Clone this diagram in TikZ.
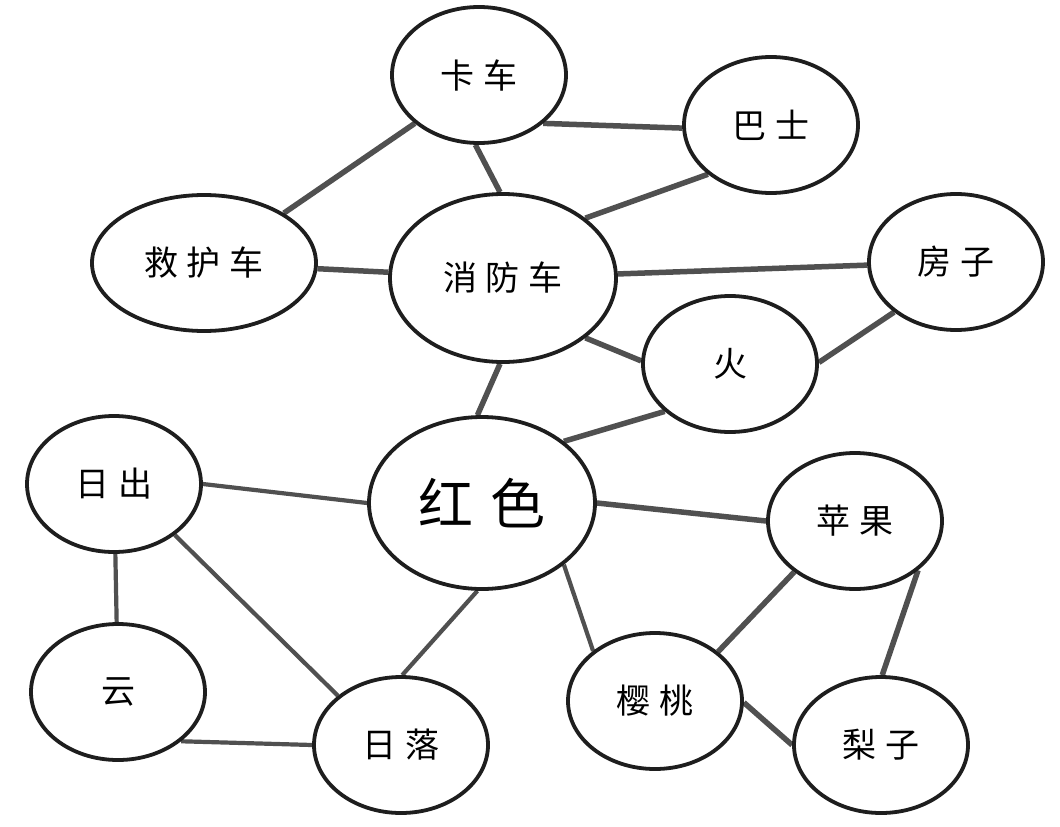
\documentclass[tikz,border=0pt]{standalone}
\usepackage{fontspec}
\newfontfamily\cjk{Noto Sans CJK SC}
\usetikzlibrary{shapes.geometric,backgrounds}
\definecolor{edgegray}{HTML}{505050}
\definecolor{bordergray}{HTML}{1E1E1E}
\newcommand{\cgap}{\hspace{9pt}}
\newcommand{\bgap}{\hspace{18pt}}
\tikzset{
  bubble/.style={ellipse, draw=bordergray, line width=3.8pt, fill=white, inner sep=0pt,
    minimum width=174pt, minimum height=136pt, font=\cjk\fontsize{34}{40}\selectfont},
  widebubble/.style={bubble, minimum width=224pt},
  bigbubble/.style={bubble, minimum width=226pt, minimum height=168pt},
  hugebubble/.style={bubble, minimum width=226pt, minimum height=172pt, font=\cjk\fontsize{55}{60}\selectfont},
  link/.style={draw=edgegray, line width=5.5pt},
  thinlink/.style={draw=edgegray, line width=4.2pt},
}
\begin{document}
\begin{tikzpicture}[x=1pt, y=-1pt]
\useasboundingbox (0,0) rectangle (1060,827);

\node[bubble]     (kache)   at (479,75)  {卡\cgap 车};
\node[bubble]     (bashi)   at (771,125) {巴\cgap 士};
\node[widebubble] (jiuhu)   at (204,263) {救\cgap 护\cgap 车};
\node[bigbubble]  (xiaofang) at (503,278) {消\cgap 防\cgap 车};
\node[bubble]     (fangzi)  at (956,262) {房\cgap 子};
\node[bubble]     (huo)     at (730,364) {火};
\node[hugebubble] (hongse)  at (482,503) {红\bgap 色};
\node[bubble]     (richu)   at (114,484) {日\cgap 出};
\node[bubble]     (pingguo) at (855,521) {苹\cgap 果};
\node[bubble]     (yun)     at (118,692) {云};
\node[bubble]     (riluo)   at (401,745) {日\cgap 落};
\node[bubble]     (yingtao) at (655,701) {樱\cgap 桃};
\node[bubble]     (lizi)    at (881,745) {梨\cgap 子};

\begin{scope}[on background layer]
\fill[white] (0,0) rectangle (1060,827);
\draw[link] (kache.-37) -- (bashi.182);
\draw[link] (jiuhu.32) -- (kache.-143);
\draw[link] (kache.-93) -- (xiaofang.92);
\draw[link] (jiuhu) -- (xiaofang);
\draw[link] (xiaofang.36) -- (bashi.-142);
\draw[link] (xiaofang) -- (fangzi);
\draw[link] (xiaofang.-36) -- (huo.178);
\draw[link] (fangzi.-141) -- (huo.1);
\draw[link] (hongse.37) -- (huo.-144);
\draw[link] (xiaofang.-92) -- (hongse.93);
\draw[thinlink] (richu.0) -- (hongse.180);
\draw[thinlink] (richu) -- (yun);
\draw[thinlink] (richu.-40) -- (riluo.142);
\draw[thinlink] (yun.-38) -- (riluo.180);
\draw[thinlink] (hongse.-93) -- (riluo.89);
\draw[link] (hongse.0) -- (pingguo.180);
\draw[thinlink] (hongse.-37) -- (yingtao.141);
\draw[link] (pingguo.-140) -- (yingtao.38);
\draw[link] (pingguo.-38) -- (lizi.89);
\draw[link] (yingtao.-1) -- (lizi.180);
\end{scope}
\end{tikzpicture}
\end{document}
